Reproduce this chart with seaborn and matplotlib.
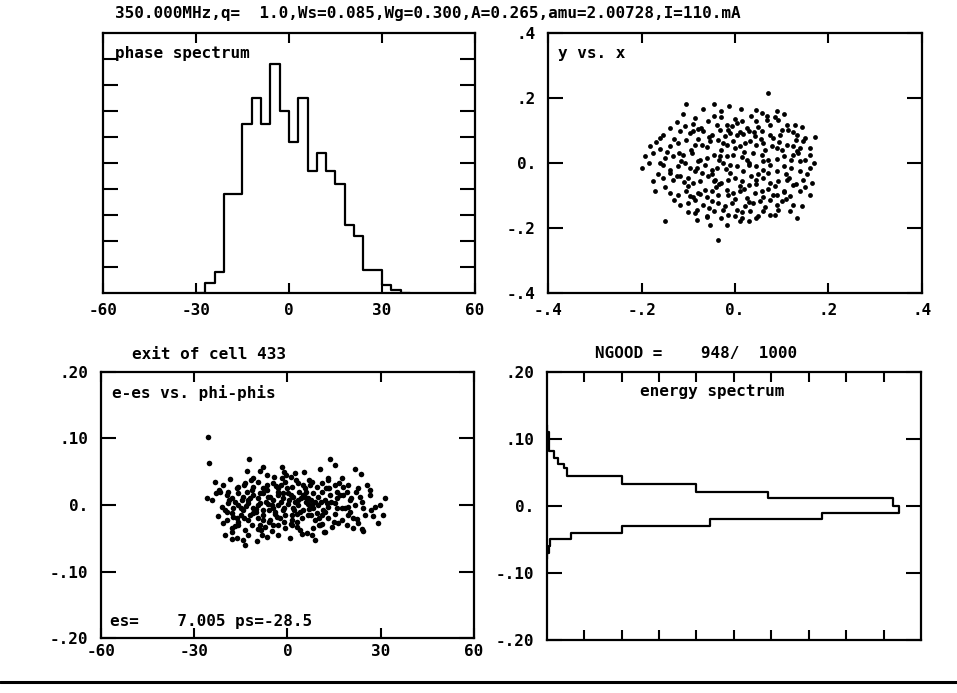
import numpy as np
import pandas as pd
import seaborn as sns
import matplotlib
matplotlib.use("Agg")
import matplotlib.pyplot as plt
from matplotlib.lines import Line2D

# ---- header / labels ----
HEADER = "350.000MHz,q=  1.0,Ws=0.085,Wg=0.300,A=0.265,amu=2.00728,I=110.mA"
CELL_LABEL = "exit of cell 433"
NGOOD_LABEL = "NGOOD =    948/  1000"
ES_LABEL = "es=    7.005 ps=-28.5"

# ---- phase spectrum (deg, counts) ----
PHASE_EDGES = [-30, -27, -24, -21, -18, -15, -12, -9, -6, -3, 0, 3, 6, 9,
               12, 15, 18, 21, 24, 27, 30, 33, 36, 39]
PHASE_COUNTS = [0, 4, 8, 38, 38, 65, 75, 65, 88, 70, 58, 75, 47, 54,
                47, 42, 26, 22, 9, 9, 3, 1, 0]

# ---- energy spectrum (de, counts) ----
ENERGY_EDGES = [-0.08, -0.07, -0.06, -0.05, -0.04, -0.03, -0.02, -0.01, 0.0,
                0.011, 0.021, 0.032, 0.044, 0.056, 0.063, 0.071, 0.081, 0.093,
                0.11, 0.12]
ENERGY_COUNTS = [0, 1, 2, 13, 40, 87, 147, 188, 185, 118, 80, 40, 11, 9, 6,
                 4, 1, 1, 0]

# ---- y vs. x cloud ----
YX_X = [0.071,
        -0.105, -0.068, -0.046, -0.030, -0.012, 0.013, 0.046, 0.057, 0.069, 0.089, 0.106,
        -0.111, -0.086, -0.073, -0.057, -0.039, -0.018, -0.007, 0.004, 0.014, 0.025, 0.046,
        0.068, 0.075, 0.093, 0.111, 0.129, 0.143,
        -0.154, -0.139, -0.118, -0.107, -0.096, -0.089, -0.068, -0.050, -0.032, -0.021,
        -0.011, 0.004, 0.018, 0.029, 0.043, 0.057, 0.075, 0.082, 0.096, 0.114, 0.132, 0.150, 0.171,
        -0.182, -0.161, -0.161, -0.139, -0.121, -0.104, -0.086, -0.071, -0.054, -0.036, -0.018,
        -0.004, 0.011, 0.021, 0.032, 0.046, 0.061, 0.079, 0.089, 0.111, 0.125, 0.136, 0.146, 0.161,
        -0.193, -0.175, -0.150, -0.132, -0.111, -0.093, -0.075, -0.061, -0.046, -0.032, -0.018,
        -0.004, 0.014, 0.025, 0.039, 0.057, 0.071, 0.089, 0.104, 0.125, 0.132, 0.139, 0.161,
        -0.200, -0.154, -0.139, -0.121, -0.107, -0.096, -0.082, -0.064, -0.050, -0.039, -0.025,
        -0.011, 0.004, 0.018, 0.029, 0.046, 0.061, 0.075, 0.089, 0.104, 0.121, 0.139, 0.161,
        -0.175, -0.154, -0.132, -0.118, -0.100, -0.089, -0.075, -0.057, -0.043, -0.029, -0.014,
        0.000, 0.014, 0.029, 0.046, 0.061, 0.075, 0.093, 0.111, 0.125, 0.146, 0.164,
        -0.171, -0.139, -0.121, -0.104, -0.096, -0.079, -0.064, -0.050, -0.036, -0.018, -0.004,
        0.011, 0.025, 0.043, 0.057, 0.071, 0.082, 0.104, 0.118, 0.139, 0.161,
        -0.118, -0.100, -0.086, -0.082, -0.068, -0.050, -0.036, -0.021, -0.007, 0.004, 0.021,
        0.039, 0.054, 0.075, 0.089, 0.100, 0.125, 0.143,
        -0.150, -0.086, -0.082, -0.061, -0.046, -0.029, -0.014, 0.000, 0.014, 0.032, 0.050,
        0.061, 0.075, 0.093, 0.118, 0.132,
        -0.054, -0.036, -0.018, 0.011, 0.029,
        -0.09, -0.03, 0.035, 0.10, -0.12, -0.06, 0.00, 0.065, 0.12, -0.14, -0.07, -0.01, 0.05,
        0.11, -0.10, -0.04, 0.02, 0.085, 0.15, -0.06, 0.00, 0.06, 0.11, -0.08, -0.015, 0.05,
        0.13, -0.16, 0.17, -0.03, 0.03, -0.045,
        -0.125, -0.08, -0.045, 0.0, 0.04, 0.085, 0.125,
        -0.17, -0.13, -0.095, -0.055, -0.025, 0.01, 0.055, 0.095, 0.14,
        -0.185, -0.145, -0.115, -0.08, -0.035, 0.02, 0.06, 0.1, 0.15,
        -0.165, -0.125, -0.085, -0.05, -0.02, 0.035, 0.07, 0.115, 0.155,
        -0.15, -0.11, -0.075, -0.035, 0.01, 0.045, 0.09, 0.13,
        -0.13, -0.09, -0.055, -0.015, 0.03, 0.065, 0.105,
        -0.1, -0.06, -0.025, 0.015, 0.045, 0.085]
YX_Y = [0.215,
        0.183, 0.167, 0.182, 0.161, 0.176, 0.166, 0.164, 0.154, 0.144, 0.159, 0.151,
        0.151, 0.138, 0.108, 0.130, 0.118, 0.118, 0.113, 0.123, 0.128, 0.108, 0.128,
        0.133, 0.118, 0.133, 0.118, 0.116, 0.110,
        0.087, 0.108, 0.097, 0.113, 0.092, 0.097, 0.097, 0.087, 0.103, 0.082,
        0.092, 0.087, 0.089, 0.097, 0.082, 0.097, 0.087, 0.077, 0.087, 0.103, 0.087, 0.077, 0.079,
        0.051, 0.077, 0.044, 0.051, 0.062, 0.072, 0.056, 0.056, 0.067, 0.072, 0.056,
        0.067, 0.051, 0.062, 0.067, 0.056, 0.062, 0.051, 0.046, 0.056, 0.051, 0.031, 0.067, 0.046,
        0.021, 0.031, 0.015, 0.021, 0.026, 0.031, 0.010, 0.015, 0.026, 0.021, 0.021,
        0.026, 0.017, 0.010, 0.031, 0.026, 0.010, 0.013, 0.021, 0.026, 0.036, 0.005, 0.026,
        -0.015, -0.005, -0.021, -0.010, 0.000, -0.015, -0.015, -0.005, -0.021, -0.015, 0.000,
        -0.005, -0.010, -0.026, -0.005, -0.010, -0.021, -0.005, -0.026, -0.010, -0.015, -0.026, -0.015,
        -0.056, -0.046, -0.051, -0.041, -0.046, -0.062, -0.056, -0.041, -0.051, -0.062, -0.051,
        -0.046, -0.056, -0.067, -0.051, -0.046, -0.062, -0.056, -0.051, -0.067, -0.051, -0.062,
        -0.087, -0.092, -0.097, -0.087, -0.103, -0.092, -0.082, -0.087, -0.097, -0.082, -0.092,
        -0.085, -0.108, -0.092, -0.087, -0.079, -0.097, -0.087, -0.103, -0.087, -0.099,
        -0.128, -0.123, -0.113, -0.144, -0.128, -0.118, -0.123, -0.133, -0.123, -0.144, -0.133,
        -0.123, -0.118, -0.113, -0.128, -0.118, -0.128, -0.133,
        -0.179, -0.154, -0.174, -0.164, -0.149, -0.169, -0.159, -0.164, -0.169, -0.149, -0.164,
        -0.149, -0.159, -0.144, -0.149, -0.169,
        -0.190, -0.236, -0.190, -0.179, -0.179,
        0.12, 0.14, 0.145, 0.10, 0.03, 0.05, 0.045, 0.04, 0.01, -0.03, -0.03, -0.03, -0.035,
        -0.035, -0.07, -0.075, -0.08, -0.07, -0.075, -0.105, -0.11, -0.105, -0.11, 0.075, 0.10, 0.11,
        0.07, 0.00, 0.00, 0.04, 0.00, -0.055,
        0.125, 0.105, 0.145, 0.135, 0.095, 0.14, 0.095,
        0.065, 0.075, 0.04, 0.08, 0.06, 0.095, 0.075, 0.065, 0.045,
        0.0, 0.035, 0.005, 0.005, 0.01, 0.035, 0.005, 0.04, 0.01,
        -0.035, -0.04, -0.025, -0.035, -0.02, -0.04, -0.03, -0.045, -0.035,
        -0.075, -0.06, -0.095, -0.065, -0.07, -0.065, -0.1, -0.065,
        -0.115, -0.105, -0.14, -0.1, -0.12, -0.135, -0.09,
        -0.15, -0.165, -0.145, -0.15, -0.17, -0.16]

# ---- e-es vs. phi-phis cloud ----
EP_PHI = [-25.5, -25.3, -12.4, 13.7, -13.1, -8.8, -7.8, -1.7, -1.0, 2.4, 5.4, 10.5, 15.3,
          17.4, 21.7, 23.6, -6.7, -1.9, 1.1, 13.1,
          -23.3, -20.6, -18.5, -16.4, -13.7, -11.0, -9.4, -6.7, -4.6, -3.0, -0.8, 1.3, 3.5,
          5.6, 7.2, 9.4, 11.0, 13.1, 15.3, 18.0, 19.6, 22.8, 26.5,
          -26.0, -24.4, -21.7, -19.6, -18.0, -15.8, -14.2, -12.6, -11.0, -9.4, -7.8, -6.2, -4.6,
          -3.0, -1.3, 0.3, 1.9, 3.5, 5.1, 6.7, 8.3, 9.9, 12.1, 13.7, 15.8, 18.0, 20.1, 23.3, 26.5, 31.4,
          -21.2, -19.0, -17.4, -15.8, -14.2, -12.6, -11.0, -9.4, -7.8, -6.2, -4.6, -3.0, -1.3,
          0.3, 1.9, 3.5, 5.1, 6.7, 8.3, 9.9, 11.5, 13.1, 15.3, 17.4, 19.6, 21.7, 24.4, 28.1, 29.8,
          -22.3, -19.6, -18.0, -16.4, -14.8, -12.6, -11.0, -9.4, -7.8, -5.6, -4.0, -2.4, -0.8,
          1.3, 3.0, 4.6, 6.7, 8.8, 11.0, 13.1, 15.3, 17.4, 19.6, 22.3, 25.0, 27.6, 30.8,
          -20.6, -18.0, -15.8, -13.7, -11.5, -9.4, -7.2, -5.1, -3.0, -0.8, 1.3, 4.0, 6.2, 8.3,
          10.5, 12.1, 14.2, 16.4, 19.0, 21.2, 22.8, 23.9, 24.4, 29.2,
          -20.1, -18.0, -16.4, -14.2, -13.7, -9.9, -8.3, -6.7, -3.0, 0.8, 4.6, 7.8, 8.8, 11.8,
          -17, -13, -10, -8, -5, -3, -1, 1, 2.5, 4, 6, 7.5, 9, 11, 12, 14, 16, -15, -12, -7, -4,
          0, 3, 5, 8, 10, -19, -16, -11, -6, -2, 1.5, 6, 13, 17, 20, -9, -14, 19, 24,
          -22, -18.8, -16, -13.5, -11.8, -9, -6.5, -4.2, -2.2, 0.5, 2.8, 5.5, 8, 10.8, 13.5,
          16.5, 20.5, 25.5,
          -20, -17.5, -14.5, -12, -10.2, -8, -5.5, -3.5, -1.5, 1, 3.8, 6.8, 9.5, 12.5, 15,
          18.5, 22, 27,
          -23, -19.5, -17, -14, -11.5, -8.8, -6, -3.8, -1, 2, 4.5, 7.5, 10, 12.8, 16, 21,
          -17.8, -12.8, -8.5, -4.8, -0.5, 3.2, 7, 11.2]
EP_DE = [0.1025, 0.0625, 0.0685, 0.069, 0.051, 0.0515, 0.0575, 0.0565, 0.049, 0.0475, 0.049,
         0.054, 0.060, 0.040, 0.0535, 0.0465, 0.045, 0.040, 0.0425, 0.0375,
         0.034, 0.030, 0.039, 0.025, 0.0325, 0.0275, 0.035, 0.030, 0.0325, 0.025, 0.035, 0.0275,
         0.0325, 0.025, 0.030, 0.0275, 0.0325, 0.025, 0.030, 0.0275, 0.030, 0.025, 0.0225,
         0.010, 0.0075, 0.020, 0.015, 0.010, 0.0175, 0.0125, 0.0075, 0.015, 0.010, 0.0175, 0.0125,
         0.0075, 0.015, 0.010, 0.0175, 0.0125, 0.0075, 0.015, 0.010, 0.0175, 0.0125, 0.0075, 0.015,
         0.010, 0.015, 0.0075, 0.0125, 0.015, 0.011,
         -0.0025, 0.0025, -0.005, 0.0, -0.0075, 0.0025, -0.005, 0.0, -0.0075, 0.001, -0.005, 0.0,
         -0.0075, 0.001, -0.005, 0.0, -0.0075, 0.001, -0.005, 0.0, -0.0075, -0.0025, 0.0025, -0.005,
         -0.0025, 0.0, -0.005, -0.0025, 0.0,
         -0.016, -0.0225, -0.0125, -0.020, -0.015, -0.0225, -0.0125, -0.020, -0.015, -0.0225,
         -0.014, -0.020, -0.015, -0.0225, -0.014, -0.020, -0.015, -0.0225, -0.015, -0.020, -0.014,
         -0.0225, -0.015, -0.021, -0.015, -0.016, -0.015,
         -0.0275, -0.035, -0.030, -0.0375, -0.030, -0.036, -0.0325, -0.039, -0.030, -0.035, -0.030,
         -0.0375, -0.0425, -0.035, -0.030, -0.040, -0.0325, -0.0275, -0.030, -0.035, -0.0275,
         -0.036, -0.039, -0.0275,
         -0.045, -0.051, -0.050, -0.0525, -0.060, -0.054, -0.045, -0.0475, -0.045, -0.050, -0.044,
         -0.045, -0.0525, -0.041,
         0.005, 0.02, -0.01, 0.025, 0.0, 0.02, -0.005, 0.015, 0.005, -0.01, 0.02, -0.015, 0.005,
         0.02, -0.01, 0.005, -0.005, -0.005, -0.015, 0.005, -0.01, 0.025, -0.025, 0.03, 0.0, -0.02,
         0.02, -0.025, 0.04, -0.025, 0.005, -0.015, 0.005, 0.04, 0.015, -0.01, -0.03, 0.03, 0.02, 0.005,
         0.022, 0.008, 0.027, -0.002, 0.037, 0.018, 0.022, 0.042, 0.03, 0.007, 0.038, 0.012, 0.035,
         0.005, 0.025, 0.033, 0.01, 0.03,
         -0.008, -0.018, 0.008, 0.01, -0.006, -0.022, 0.012, -0.018, 0.018, -0.028, 0.02, -0.006,
         -0.012, 0.025, -0.025, -0.005, 0.02, -0.008,
         0.018, -0.01, -0.032, -0.02, 0.022, 0.003, -0.008, 0.028, -0.025, -0.008, 0.01, 0.008,
         -0.03, 0.003, 0.02, -0.02,
         -0.04, -0.045, -0.038, -0.03, 0.045, -0.033, 0.038, -0.028]

sns.set_theme(style="ticks", rc={
    "axes.edgecolor": "black", "xtick.color": "black", "ytick.color": "black",
    "text.color": "black", "axes.labelcolor": "black",
})
plt.rcParams["font.family"] = ["DejaVu Sans Mono", "DejaVu Sans"]
plt.rcParams["font.weight"] = "bold"

FS = 11.5


def style_axes(ax, xlim, ylim, xticks, yticks, xlabels=(), ylabels=(), xpad=7):
    ax.set_xlim(*xlim)
    ax.set_ylim(*ylim)
    ax.set_xticks(xticks)
    ax.set_yticks(yticks)
    ax.set_xticklabels(list(xlabels) if xlabels else [])
    ax.set_yticklabels(list(ylabels) if ylabels else [])
    ax.tick_params(direction="in", top=True, right=True, width=1.5, labelsize=FS)
    ax.tick_params(axis="x", length=7, pad=xpad)
    ax.tick_params(axis="y", length=11, pad=9)
    for sp in ax.spines.values():
        sp.set_visible(True)
        sp.set_linewidth(1.6)
    ax.set_xlabel("")
    ax.set_ylabel("")


fig = plt.figure(figsize=(9.57, 6.93), dpi=100)
ax_ph = fig.add_axes([0.1076, 0.5772, 0.3887, 0.3752])
ax_yx = fig.add_axes([0.5729, 0.5772, 0.3902, 0.3752])
ax_ep = fig.add_axes([0.1055, 0.0789, 0.3898, 0.3847])
ax_en = fig.add_axes([0.5713, 0.0765, 0.3911, 0.3872])

# phase spectrum
pe = np.array(PHASE_EDGES, dtype=float)
phase_df = pd.DataFrame({"phase": (pe[:-1] + pe[1:]) / 2, "count": PHASE_COUNTS})
sns.histplot(data=phase_df, x="phase", weights="count", bins=PHASE_EDGES, element="step",
             fill=False, color="black", linewidth=1.6, ax=ax_ph)
style_axes(ax_ph, (-60, 60), (0, 100), [-60, -30, 0, 30, 60], list(range(10, 100, 10)),
           xlabels=["-60", "-30", "0", "30", "60"])
ax_ph.text(0.032, 0.923, "phase spectrum", transform=ax_ph.transAxes, fontsize=FS,
           ha="left", va="center")

# y vs. x
yx_df = pd.DataFrame({"x": YX_X, "y": YX_Y})
sns.scatterplot(data=yx_df, x="x", y="y", s=12, color="black", linewidth=0, ax=ax_yx)
style_axes(ax_yx, (-0.4, 0.4), (-0.4, 0.4), [-0.4, -0.2, 0, 0.2, 0.4], [-0.4, -0.2, 0, 0.2, 0.4],
           xlabels=["-.4", "-.2", "0.", ".2", ".4"], ylabels=["-.4", "-.2", "0.", ".2", ".4"])
ax_yx.text(0.027, 0.923, "y vs. x", transform=ax_yx.transAxes, fontsize=FS,
           ha="left", va="center")

# e-es vs. phi-phis
ep_df = pd.DataFrame({"phi": EP_PHI, "de": EP_DE})
sns.scatterplot(data=ep_df, x="phi", y="de", s=16, color="black", linewidth=0, ax=ax_ep)
style_axes(ax_ep, (-60, 60), (-0.2, 0.2), [-60, -30, 0, 30, 60], [-0.2, -0.1, 0, 0.1, 0.2],
           xlabels=["-60", "-30", "0", "30", "60"],
           ylabels=["-.20", "-.10", "0.", ".10", ".20"], xpad=4)
ax_ep.text(0.029, 0.921, "e-es vs. phi-phis", transform=ax_ep.transAxes, fontsize=FS,
           ha="left", va="center")
ax_ep.text(0.024, 0.062, ES_LABEL, transform=ax_ep.transAxes, fontsize=FS,
           ha="left", va="center")
ax_ep.text(0.082, 1.063, CELL_LABEL, transform=ax_ep.transAxes, fontsize=FS,
           ha="left", va="center")

# energy spectrum
ee = np.array(ENERGY_EDGES, dtype=float)
en_df = pd.DataFrame({"de": (ee[:-1] + ee[1:]) / 2, "count": ENERGY_COUNTS})
sns.histplot(data=en_df, y="de", weights="count", bins=ENERGY_EDGES, element="step",
             fill=False, color="black", linewidth=1.6, ax=ax_en)
style_axes(ax_en, (0, 200), (-0.2, 0.2), list(range(20, 200, 20)), [-0.2, -0.1, 0, 0.1, 0.2],
           ylabels=["-.20", "-.10", "0.", ".10", ".20"])
ax_en.text(0.441, 0.925, "energy spectrum", transform=ax_en.transAxes, fontsize=FS,
           ha="center", va="center")
ax_en.text(0.129, 1.069, NGOOD_LABEL, transform=ax_en.transAxes, fontsize=FS,
           ha="left", va="center")

fig.text(0.120, 0.981, HEADER, fontsize=FS, ha="left", va="center")
fig.add_artist(Line2D([0.0, 1.0], [0.016, 0.016], transform=fig.transFigure,
                      color="black", linewidth=2.2))

fig.savefig("out.png", dpi=100)
